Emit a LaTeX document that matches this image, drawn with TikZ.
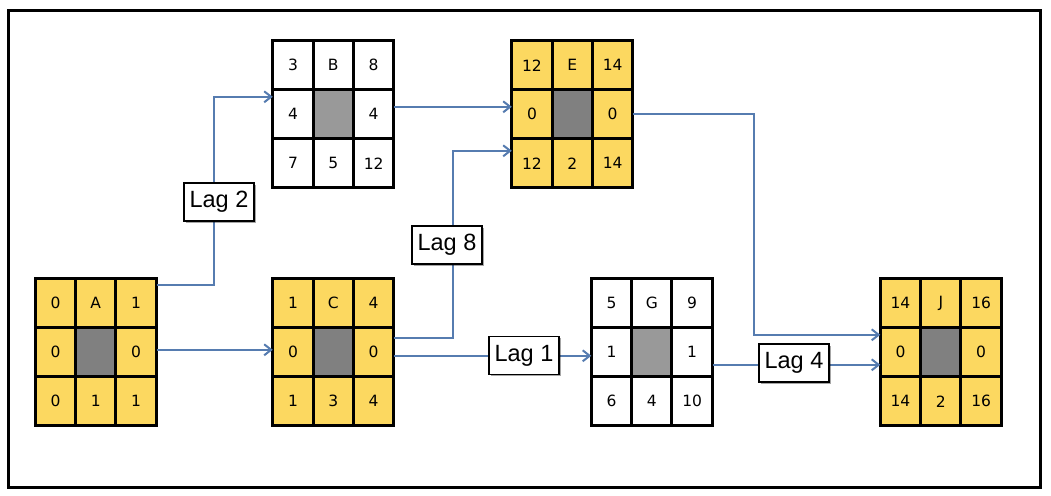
\documentclass[tikz,border=0pt]{standalone}
\usepackage{fontspec}
\usetikzlibrary{calc,arrows.meta,shadows}
\newfontfamily\cellfont{DejaVu Sans}
\newfontfamily\lagfont{Liberation Sans}
\definecolor{cpmyellow}{RGB}{252,216,96}
\definecolor{midgray}{RGB}{128,128,128}
\definecolor{litegray}{RGB}{153,153,153}
\definecolor{connblue}{RGB}{86,124,176}
\tikzset{
  gridbox/.style={minimum width=121pt,minimum height=147pt,inner sep=0pt},
  cellbox/.style={draw=black,line width=3pt,minimum width=40.33pt,minimum height=49pt,inner sep=0pt,
    font=\cellfont\fontsize{15.5}{17}\selectfont},
  conn/.style={draw=connblue,line width=2pt,-{Straight Barb[length=7pt,width=11pt,line width=2pt]}},
  lagbox/.style={draw=black,line width=1.2pt,fill=white,minimum width=70pt,minimum height=38pt,inner sep=0pt,
    font=\lagfont\fontsize{23.5}{26}\selectfont,
    drop shadow={shadow xshift=1.5pt,shadow yshift=-1.5pt,opacity=0.35,fill=black}},
}
% #1 name, #2 centre, #3 cell fill, #4 middle fill, #5 labels
\newcommand{\cellgrid}[5]{%
  \node[gridbox] (#1) at #2 {};
  \foreach \t [count=\i from 0] in {#5} {
    \pgfmathtruncatemacro\rr{int(\i/3)}
    \pgfmathtruncatemacro\cc{\i-3*\rr}
    \ifnum\i=4
      \node[cellbox,fill=#4] (#1-\i) at ($(#1.north west)+({(\cc+0.5)*40.333},{(\rr+0.5)*49})$) {};
    \else
      \node[cellbox,fill=#3] (#1-\i) at ($(#1.north west)+({(\cc+0.5)*40.333},{(\rr+0.5)*49})$) {\t};
    \fi
  }
}
\begin{document}
\begin{tikzpicture}[x=1pt,y=-1pt]
\useasboundingbox (0,0) rectangle (1051,495);
\fill[white] (0,0) rectangle (1051,495);
\node[draw=black,line width=3pt,minimum width=1032pt,minimum height=476pt,inner sep=0pt] (frame) at (524,249) {};

\cellgrid{A}{(96,352.5)}{cpmyellow}{midgray}{0,A,1,0,,0,0,1,1}
\cellgrid{B}{(333.5,114.5)}{white}{litegray}{3,B,8,4,,4,7,5,12}
\cellgrid{E}{(572.5,114.5)}{cpmyellow}{midgray}{12,E,14,0,,0,12,2,14}
\cellgrid{C}{(333.5,352.5)}{cpmyellow}{midgray}{1,C,4,0,,0,1,3,4}
\cellgrid{G}{(652,352.5)}{white}{litegray}{5,G,9,1,,1,6,4,10}
\cellgrid{J}{(941,352.5)}{cpmyellow}{midgray}{14,J,16,0,,0,14,2,16}

% bend points
\coordinate (k2) at (214,202);
\coordinate (k8) at (453,245);
\coordinate (kE) at (754,220);

% A -> B (Lag 2)
\draw[conn] ($(A.north east)+(0,6)$) -| (k2) |- ($(B.north west)+(0,56)$);
\node[lagbox] (lag2) at (219,202) {Lag 2};
% A -> C
\draw[conn] ($(A.north east)+(0,71)$) -- ($(C.north west)+(0,71)$);
% B -> E
\draw[conn] ($(B.north east)+(0,66)$) -- ($(E.north west)+(0,66)$);
% C -> E (Lag 8)
\draw[conn] ($(C.north east)+(0,59)$) -| (k8) |- ($(E.north west)+(0,110)$);
\node[lagbox] (lag8) at (447,245) {Lag 8};
% C -> G (Lag 1)
\draw[conn] ($(C.north east)+(0,77)$) -- ($(G.north west)+(0,77)$);
\node[lagbox] (lag1) at (524,355.5) {Lag 1};
% E -> J
\draw[conn] ($(E.north east)+(0,73)$) -| (kE) |- ($(J.north west)+(0,56)$);
% G -> J (Lag 4)
\draw[conn] ($(G.north east)+(0,86)$) -- ($(J.north west)+(0,86)$);
\node[lagbox] (lag4) at (794,363) {Lag 4};
\end{tikzpicture}
\end{document}
